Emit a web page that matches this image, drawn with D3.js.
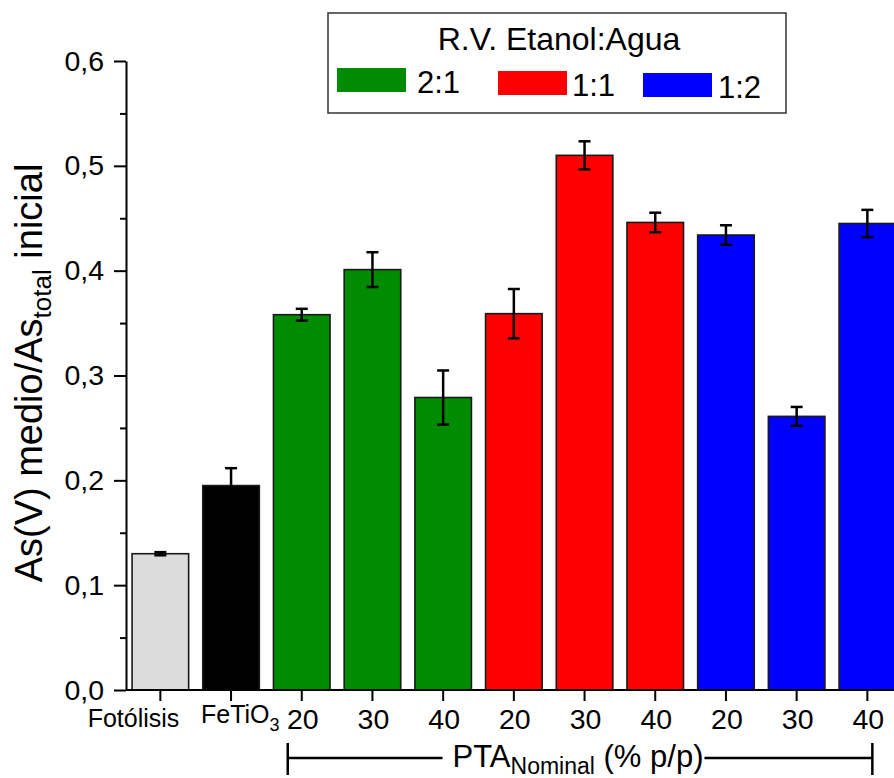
<!DOCTYPE html>
<html>
<head>
<meta charset="utf-8">
<script src="https://cdn.jsdelivr.net/npm/d3@7"></script>
<style>
  html, body { margin: 0; padding: 0; background: #fff; }
  svg { display: block; font-family: "Liberation Sans", Arial, sans-serif; }
</style>
</head>
<body>
<svg id="chart" width="894" height="778"></svg>
<script>
// ---- data ----
const categories = ["Fotólisis", "FeTiO3", "2:1-20", "2:1-30", "2:1-40", "1:1-20", "1:1-30", "1:1-40", "1:2-20", "1:2-30", "1:2-40"];
const tickLabels = ["Fotólisis", "FeTiO3", "20", "30", "40", "20", "30", "40", "20", "30", "40"];
const groups = ["fotolisis", "fetio3", "2:1", "2:1", "2:1", "1:1", "1:1", "1:1", "1:2", "1:2", "1:2"];
const values = [0.130, 0.195, 0.358, 0.401, 0.279, 0.359, 0.510, 0.446, 0.434, 0.261, 0.445];
const errors = [0.0015, 0.0166, 0.0056, 0.0166, 0.0258, 0.0235, 0.0134, 0.0093, 0.0093, 0.009, 0.013];
const yTicks = [0, 0.1, 0.2, 0.3, 0.4, 0.5, 0.6];
const yMinorTicks = [0.05, 0.15, 0.25, 0.35, 0.45, 0.55];
const legendLabels = ["2:1", "1:1", "1:2"];
const legendTitle = "R.V. Etanol:Agua";

const colorScale = d3.scaleOrdinal()
  .domain(["fotolisis", "fetio3", "2:1", "1:1", "1:2"])
  .range(["#dcdcdc", "#000000", "#008c00", "#ff0000", "#0000ff"]);

// ---- layout ----
const svg = d3.select("#chart");
const axisX = 126, axisY = 690, topY = 61;

const x = d3.scaleBand()
  .domain(categories)
  .range([125, 125 + 11 * 70.7])
  .paddingInner(0.2)
  .paddingOuter(0.1);

const y = d3.scaleLinear().domain([0, 0.6]).range([axisY, topY]);

// ---- bars ----
const bars = svg.append("g");
bars.selectAll("rect").data(categories).join("rect")
  .attr("x", d => x(d))
  .attr("y", (d, i) => y(values[i]))
  .attr("width", x.bandwidth())
  .attr("height", (d, i) => y(0) - y(values[i]))
  .attr("fill", (d, i) => colorScale(groups[i]))
  .attr("stroke", "#1a1a1a")
  .attr("stroke-width", 1.6);

// ---- error bars ----
const eg = svg.append("g").attr("stroke", "#000").attr("stroke-width", 2.5);
categories.forEach((c, i) => {
  const cx = x(c) + x.bandwidth() / 2;
  const y1 = y(values[i] + errors[i]), y2 = y(values[i] - errors[i]);
  eg.append("line").attr("x1", cx).attr("x2", cx).attr("y1", y1).attr("y2", y2);
  eg.append("line").attr("x1", cx - 6).attr("x2", cx + 6).attr("y1", y1).attr("y2", y1);
  eg.append("line").attr("x1", cx - 6).attr("x2", cx + 6).attr("y1", y2).attr("y2", y2);
});

// ---- axes ----
const fmt = d => d.toFixed(1).replace(".", ",");
const yAxis = svg.append("g").attr("transform", `translate(${axisX},0)`)
  .call(d3.axisLeft(y).tickValues(yTicks).tickFormat(fmt).tickSize(12).tickSizeOuter(0).tickPadding(10));
const yMinor = svg.append("g").attr("transform", `translate(${axisX},0)`)
  .call(d3.axisLeft(y).tickValues(yMinorTicks).tickFormat("").tickSize(6).tickSizeOuter(0));
yMinor.select(".domain").remove();
[yAxis, yMinor].forEach(g => {
  g.selectAll("line").attr("stroke", "#000").attr("stroke-width", 2);
  g.select(".domain").attr("stroke", "#000").attr("stroke-width", 2);
});
yAxis.selectAll("text").attr("font-size", 28.5).attr("fill", "#000")
  .attr("font-family", "'Liberation Sans', Arial, sans-serif");

const xAxis = svg.append("g").attr("transform", `translate(0,${axisY})`)
  .call(d3.axisBottom(x).tickFormat("").tickSize(11).tickSizeOuter(0));
xAxis.select(".domain").attr("d", `M${axisX},0H900`).attr("stroke", "#000").attr("stroke-width", 2);
xAxis.selectAll("line").attr("stroke", "#000").attr("stroke-width", 2);

// x tick labels
const xl = svg.append("g").attr("fill", "#000");
categories.forEach((c, i) => {
  const cx = x(c) + x.bandwidth() / 2;
  if (i === 0) {
    xl.append("text").attr("x", cx + 19).attr("y", 727).attr("text-anchor", "end")
      .attr("font-size", 25).text(tickLabels[i]);
  } else if (i === 1) {
    const t = xl.append("text").attr("x", cx - 30).attr("y", 723).attr("font-size", 25);
    t.append("tspan").text("FeTiO");
    t.append("tspan").attr("font-size", 18).attr("dy", 8).text("3");
  } else {
    xl.append("text").attr("x", cx + 1).attr("y", 729).attr("text-anchor", "middle")
      .attr("font-size", 28.5).text(tickLabels[i]);
  }
});

// y title
const yt = svg.append("text")
  .attr("transform", "translate(42,373) rotate(-90)")
  .attr("text-anchor", "middle").attr("font-size", 38).attr("fill", "#000");
yt.append("tspan").text("As(V) medio/As");
yt.append("tspan").attr("font-size", 26).attr("dy", 9).text("total");
yt.append("tspan").attr("dy", -9).text(" inicial");

// x bracket label
const xCenter = 578;
const lt = svg.append("text").attr("x", xCenter).attr("y", 767).attr("text-anchor", "middle")
  .attr("font-size", 31).attr("fill", "#000");
lt.append("tspan").text("PTA");
lt.append("tspan").attr("font-size", 23).attr("dy", 7).text("Nominal");
lt.append("tspan").attr("dy", -7).text(" (% p/p)");
const bb = lt.node().getBBox();
const bx1 = x(categories[2]) + x.bandwidth() / 2 - 14;
const bx2 = x(categories[10]) + x.bandwidth() / 2 + 5;
const br = svg.append("g").attr("stroke", "#000").attr("stroke-width", 2.5);
br.append("line").attr("x1", bx1).attr("x2", bb.x - 10).attr("y1", 758).attr("y2", 758);
br.append("line").attr("x1", bb.x + bb.width + 1).attr("x2", bx2).attr("y1", 758).attr("y2", 758);
br.append("line").attr("x1", bx1).attr("x2", bx1).attr("y1", 743).attr("y2", 775);
br.append("line").attr("x1", bx2).attr("x2", bx2).attr("y1", 743).attr("y2", 775);

// ---- legend ----
const lg = svg.append("g");
lg.append("rect").attr("x", 328).attr("y", 13).attr("width", 458).attr("height", 100)
  .attr("fill", "#fff").attr("stroke", "#333").attr("stroke-width", 1.5);
lg.append("text").attr("x", 559).attr("y", 50).attr("text-anchor", "middle")
  .attr("font-size", 32).attr("fill", "#000").text(legendTitle);
const legX = [337, 498, 643];
const legY = [68, 71, 73];
const legTX = [417, 572, 718];
legendLabels.forEach((l, i) => {
  lg.append("rect").attr("x", legX[i]).attr("y", legY[i]).attr("width", 69).attr("height", 24)
    .attr("fill", colorScale(l));
  lg.append("text").attr("x", legTX[i]).attr("y", legY[i] + 24.5).attr("font-size", 31)
    .attr("fill", "#000").text(l);
});
</script>
</body>
</html>
